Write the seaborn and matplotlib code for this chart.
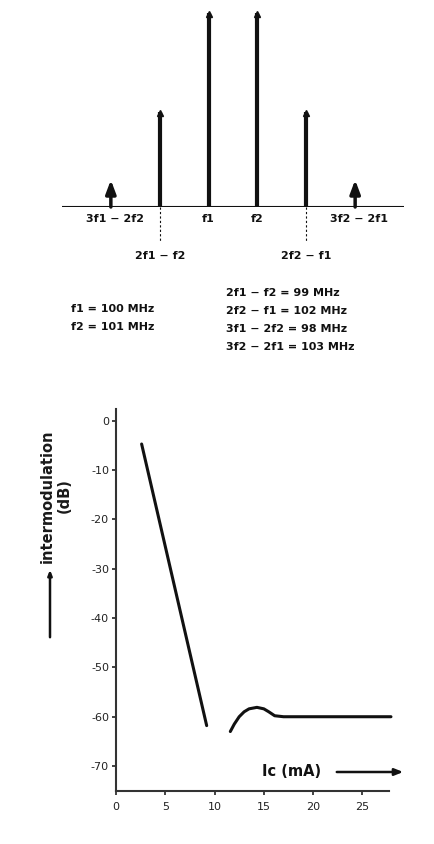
import numpy as np
import pandas as pd
import matplotlib
matplotlib.use("Agg")
import matplotlib.pyplot as plt
import seaborn as sns

sns.set_style("ticks")
plt.rcParams['font.family'] = ['DejaVu Sans']

# spectrum (top)
freq = [98, 99, 100, 101, 102, 103]
level = [1.36, 5.0, 10.0, 10.0, 5.0, 1.36]
row1_labels = {98: "3f1 \u2212 2f2", 100: "f1", 101: "f2", 103: "3f2 \u2212 2f1"}
row2_labels = {99: "2f1 \u2212 f2", 102: "2f2 \u2212 f1"}
left_eqs = ["f1 = 100 MHz", "f2 = 101 MHz"]
right_eqs = ["2f1 \u2212 f2 = 99 MHz", "2f2 \u2212 f1 = 102 MHz",
             "3f1 \u2212 2f2 = 98 MHz", "3f2 \u2212 2f1 = 103 MHz"]

# intermodulation vs collector current (bottom)
ic_a = [2.6, 9.2]
im_a = [-4.7, -61.8]
ic_b = [11.6, 12.0, 12.5, 13.0, 13.5, 14.3, 15.0, 15.5, 16.1, 17.0, 27.9]
im_b = [-63.0, -61.5, -60.0, -59.0, -58.4, -58.1, -58.4, -59.0, -59.8, -60.0, -60.0]
xticks = [0, 5, 10, 15, 20, 25]
yticks = [0, -10, -20, -30, -40, -50, -60, -70]

W, H = 435, 844
fig = plt.figure(figsize=(W / 100, H / 100), dpi=100)

def box(l, t, r, b):
    return [l / W, 1 - b / H, (r - l) / W, (b - t) / H]

fs = 8
fw = 'bold'
col = '#111111'

# ---- top spectrum
ax1 = fig.add_axes(box(62, 0, 404, 207))
ax1.set_xlim(97, 104)
ax1.set_ylim(0, 10.4)
for f, a in zip(freq, level):
    if a > 2:
        ax1.vlines(f, 0, a - 0.25, color=col, lw=3)
        ax1.plot([f], [a - 0.3], marker='^', ms=4, color=col, clip_on=False)
    else:
        ax1.annotate("", xy=(f, a), xytext=(f, 0),
                     arrowprops=dict(arrowstyle='-|>,head_width=0.3,head_length=0.8',
                                     color=col, lw=2.5, shrinkA=0, shrinkB=0))
ax1.axhline(0, color=col, lw=1.5)
for s in ax1.spines.values():
    s.set_visible(False)
ax1.set_xticks([])
ax1.set_yticks([])
tr = ax1.get_xaxis_transform()
for f, lab in row1_labels.items():
    xo = 0.08 if f in (98, 103) else 0
    ax1.text(f + xo, -12 / 207, lab, transform=tr, ha='center', va='center',
             fontsize=fs, fontweight=fw, color=col)
for f, lab in row2_labels.items():
    ax1.plot([f, f], [0, -35 / 207], transform=tr, color=col, lw=0.8,
             ls=(0, (2, 2)), clip_on=False)
    ax1.text(f, -49 / 207, lab, transform=tr, ha='center', va='center',
             fontsize=fs, fontweight=fw, color=col)

for i, t in enumerate(left_eqs):
    fig.text(71 / W, 1 - (309 + 18 * i) / H, t, ha='left', va='center',
             fontsize=fs, fontweight=fw, color=col)
for i, t in enumerate(right_eqs):
    fig.text(226 / W, 1 - (293 + 18 * i) / H, t, ha='left', va='center',
             fontsize=fs, fontweight=fw, color=col)

# ---- bottom curve
ax2 = fig.add_axes(box(116, 409, 389, 790.7))
sns.lineplot(x=ic_a, y=im_a, ax=ax2, color=col, lw=2.2, clip_on=False)
sns.lineplot(x=ic_b, y=im_b, ax=ax2, color=col, lw=2.2, clip_on=False)
ax2.set_xlim(0, 27.7)
ax2.set_ylim(-75, 2.4)
ax2.set_xticks(xticks)
ax2.set_xticklabels([str(v) for v in xticks])
ax2.set_yticks(yticks)
ax2.set_yticklabels([str(v) for v in yticks])
ax2.tick_params(length=3, width=1.2, labelsize=8, colors='#222222', pad=2)
ax2.tick_params(axis='x', pad=5)
sns.despine(ax=ax2)
ax2.spines['left'].set_linewidth(1.5)
ax2.spines['bottom'].set_linewidth(1.5)
ax2.spines['left'].set_color('#333333')
ax2.spines['bottom'].set_color('#333333')
ax2.set_xlabel("")
ax2.set_ylabel("")

fig.text(56 / W, 1 - 496 / H, "intermodulation\n(dB)", rotation=90,
         ha='center', va='center', fontsize=10.5, fontweight=fw, color='#1a1a1a',
         linespacing=1.15)
fig.add_artist(matplotlib.patches.FancyArrowPatch(
    (50 / W, 1 - 640 / H), (50 / W, 1 - 567 / H), transform=fig.transFigure,
    arrowstyle='-|>,head_width=1.2,head_length=3', color=col, lw=1.8))
fig.text(292 / W, 1 - 771 / H, "Ic (mA)", ha='center', va='center',
         fontsize=10.5, fontweight=fw, color=col)
fig.add_artist(matplotlib.patches.FancyArrowPatch(
    (334 / W, 1 - 772 / H), (406 / W, 1 - 772 / H), transform=fig.transFigure,
    arrowstyle='-|>,head_width=2,head_length=5', color=col, lw=1.8))

fig.savefig("out.png", dpi=100)
